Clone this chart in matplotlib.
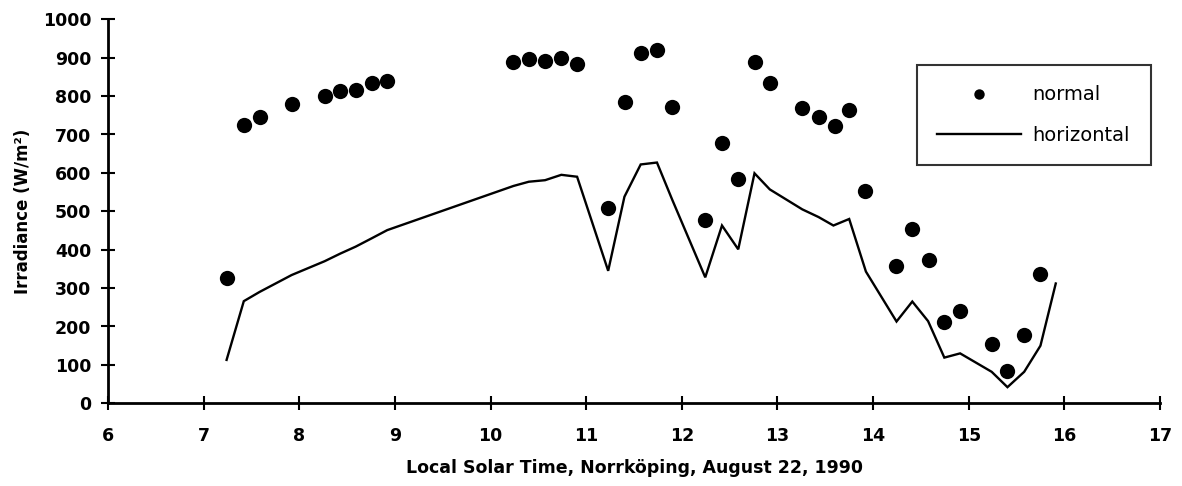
import matplotlib
matplotlib.use("Agg")
import matplotlib.pyplot as plt
from matplotlib.lines import Line2D

# Data
normal_time = [7.24, 7.42, 7.585, 7.92, 8.265, 8.43, 8.59, 8.76, 8.92,
               10.24, 10.40, 10.57, 10.74, 10.905, 11.23, 11.41, 11.57, 11.74,
               11.90, 12.24, 12.415, 12.59, 12.76, 12.92, 13.26, 13.43, 13.60,
               13.75, 13.915, 14.24, 14.41, 14.58, 14.74, 14.91, 15.24, 15.405,
               15.58, 15.745]
normal_irr = [325, 725, 746, 779, 800, 814, 816, 833, 839,
              889, 897, 891, 898, 884, 508, 784, 911, 919,
              772, 478, 679, 583, 888, 835, 768, 745, 721,
              763, 554, 358, 453, 374, 212, 241, 155, 85,
              179, 336]

horiz_time = [7.24, 7.42, 7.585, 7.92, 8.265, 8.43, 8.59, 8.76, 8.92,
              10.24, 10.40, 10.57, 10.74, 10.905, 11.23, 11.40, 11.57, 11.74,
              11.90, 12.245, 12.42, 12.59, 12.76, 12.92, 13.26, 13.43, 13.585,
              13.75, 13.925, 14.245, 14.41, 14.575, 14.745, 14.91, 15.24, 15.405,
              15.58, 15.75, 15.91]
horiz_irr = [113, 266, 290, 334, 370, 390, 408, 430, 451,
             566, 577, 581, 595, 590, 345, 538, 622, 627,
             530, 328, 463, 401, 599, 557, 505, 485, 463,
             480, 343, 213, 265, 214, 119, 130, 82, 42,
             82, 150, 312]

x_ticks = list(range(6, 18))
y_ticks = list(range(0, 1001, 100))

plt.rcParams['font.family'] = ['DejaVu Sans']

fig = plt.figure(figsize=(11.82, 4.86), dpi=100)
ax = fig.add_axes([108/1182, 1 - 403.3/486, (1160-108)/1182, (403.3-19.3)/486])

ax.plot(horiz_time, horiz_irr, color='black', lw=1.7, solid_joinstyle='miter')
ax.plot(normal_time, normal_irr, 'o', color='black', ms=11, mew=0)

ax.set_xlim(6, 17)
ax.set_ylim(0, 1000)
ax.set_xticks(x_ticks)
ax.set_yticks(y_ticks)
for s in ['top', 'right']:
    ax.spines[s].set_visible(False)
for s in ['left', 'bottom']:
    ax.spines[s].set_linewidth(2)
ax.tick_params(direction='inout', length=10, width=1.5, labelsize=12.5)
for lab in ax.get_xticklabels() + ax.get_yticklabels():
    lab.set_fontweight('bold')
ax.tick_params(axis='y', pad=7)
ax.tick_params(axis='x', pad=12)

ax.set_xlabel('Local Solar Time, Norrköping, August 22, 1990', fontsize=12.5,
              fontweight='bold', labelpad=10)
ax.set_ylabel('Irradiance (W/m²)', fontsize=12, fontweight='bold', labelpad=8)

handles = [Line2D([], [], ls='none', marker='o', color='black', ms=7.5, mew=0),
           Line2D([], [], color='black', lw=1.7)]
leg = fig.legend(handles, ['normal', 'horizontal'], loc='upper left',
                 bbox_to_anchor=(917/1182, 1 - 65/486), fontsize=14,
                 frameon=True, fancybox=False, edgecolor='black',
                 handlelength=4.3, handletextpad=0.6, labelspacing=1.1,
                 borderpad=1.05, borderaxespad=0)
leg.get_frame().set_linewidth(1.5)

fig.savefig('out.png', dpi=100)
